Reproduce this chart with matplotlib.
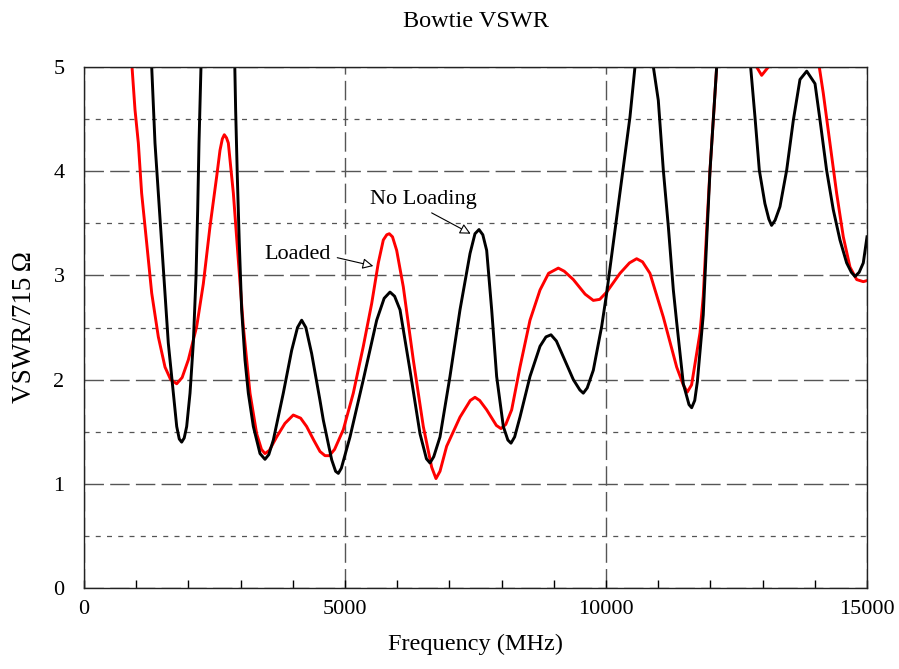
import numpy as np
import matplotlib
matplotlib.use('Agg')
import matplotlib.pyplot as plt
from matplotlib.ticker import MultipleLocator

plt.rcParams['font.family'] = ['Liberation Serif', 'DejaVu Serif']

# --- data (MHz, VSWR) ---
# values above 5 are only there to keep the clipped slopes right
freq_noload = [1250, 1297, 1360, 1424, 1488, 1552, 1615, 1711, 1776, 1825, 1871, 1920, 1967,
               2031, 2094, 2146, 2178, 2203, 2241, 2300, 2550, 2850, 2905, 2937, 2975, 3020,
               3084, 3148, 3244, 3372, 3467, 3540, 3627, 3818, 3978, 4090, 4170, 4250, 4361,
               4521, 4585, 4745, 4820, 4872, 4930, 5096, 5351, 5607, 5750, 5862, 5950, 6054,
               6245, 6437, 6560, 6628, 6700, 6820, 7011, 7203, 7395, 7490, 7567, 7640, 7714,
               7810, 7905, 8033, 8120, 8180, 8250, 8352, 8544, 8736, 8850, 8946, 9050, 9182,
               9374, 9500, 9565, 9640, 9757, 9917, 10013, 10140, 10331, 10459, 10555, 10730,
               10907, 11002, 11098, 11194, 11290, 11354, 11481, 11590, 11641, 11700, 11750,
               11863, 11930, 11992, 12069, 12120, 12450, 12771, 12854, 12937, 13044, 13120,
               13172, 13240, 13333, 13461, 13589, 13716, 13845, 14004, 14100, 14226, 14354,
               14482, 14610, 14700, 14770, 14850, 14929, 15000]
vswr_noload = [5.60, 5.00, 4.27, 3.79, 3.31, 2.83, 2.35, 1.87, 1.55, 1.43, 1.40, 1.44, 1.55,
               1.87, 2.35, 2.99, 3.63, 4.27, 5.00, 6.00, 7.00, 6.00, 4.59, 3.95, 3.31, 2.67,
               2.19, 1.87, 1.55, 1.29, 1.235, 1.28, 1.42, 1.87, 2.28, 2.50, 2.57, 2.50, 2.25,
               1.80, 1.61, 1.23, 1.12, 1.10, 1.15, 1.45, 2.00, 2.57, 2.78, 2.84, 2.80, 2.67,
               2.09, 1.48, 1.24, 1.20, 1.26, 1.45, 2.03, 2.67, 3.21, 3.40, 3.44, 3.39, 3.24,
               2.67, 2.03, 1.55, 1.42, 1.39, 1.45, 1.64, 2.03, 2.32, 2.41, 2.43, 2.37, 2.22,
               2.00, 1.90, 1.87, 1.92, 2.09, 2.51, 2.83, 3.31, 4.04, 4.52, 5.00, 5.60,
               5.00, 4.68, 4.01, 3.47, 2.86, 2.55, 1.96, 1.76, 1.73, 1.80, 1.98,
               2.62, 3.35, 4.00, 4.60, 5.00, 7.00, 5.00, 4.52, 4.01, 3.69, 3.54,
               3.48, 3.53, 3.66, 4.01, 4.49, 4.88, 4.96, 4.84, 4.49, 4.01, 3.63,
               3.34, 3.12, 3.03, 2.99, 3.03, 3.12, 3.37]

freq_loaded = [870, 920, 977, 1041, 1104, 1201, 1297, 1424, 1552, 1660, 1776, 1880, 1999, 2159,
               2286, 2414, 2542, 2605, 2650, 2688, 2730, 2765, 2861, 2956, 3052, 3180, 3308,
               3400, 3467, 3550, 3691, 3850, 4009, 4150, 4265, 4400, 4521, 4617, 4700, 4800,
               4968, 5159, 5351, 5511, 5638, 5734, 5800, 5849, 5910, 5990, 6117, 6308, 6500,
               6660, 6743, 6820, 6947, 7203, 7400, 7490, 7580, 7714, 7900, 7988, 8080, 8193,
               8352, 8544, 8736, 8900, 9086, 9200, 9374, 9600, 9757, 9880, 10013, 10268, 10450,
               10587, 10700, 10842, 11098, 11354, 11480, 11557, 11640, 11801, 11863, 11930,
               11992, 12069, 12120, 12500, 12886, 12982, 13110, 13600, 14086, 14162, 14290,
               14418, 14546, 14674, 14802, 14929, 15000]
vswr_loaded = [5.70, 5.00, 4.59, 4.27, 3.79, 3.31, 2.83, 2.41, 2.12, 2.00, 1.96, 2.02, 2.19, 2.51,
               2.92, 3.47, 3.95, 4.20, 4.31, 4.35, 4.32, 4.27, 3.79, 3.15, 2.51, 1.87, 1.48,
               1.33, 1.29, 1.32, 1.45, 1.58, 1.66, 1.63, 1.55, 1.42, 1.31, 1.27, 1.27, 1.33,
               1.52, 1.87, 2.32, 2.73, 3.12, 3.34, 3.39, 3.40, 3.37, 3.24, 2.89, 2.19, 1.55,
               1.16, 1.05, 1.12, 1.36, 1.64, 1.80, 1.83, 1.80, 1.71, 1.56, 1.53, 1.57, 1.71,
               2.12, 2.57, 2.86, 3.02, 3.07, 3.04, 2.96, 2.82, 2.76, 2.77, 2.84, 3.02, 3.12,
               3.16, 3.13, 3.02, 2.60, 2.12, 1.95, 1.88, 1.95, 2.45, 2.80, 3.45,
               4.01, 4.60, 5.00, 6.50, 5.00, 4.92, 5.00, 6.50, 5.00, 4.75, 4.27,
               3.79, 3.37, 3.08, 2.96, 2.94, 2.95]

fig = plt.figure(figsize=(8.99, 6.69), dpi=100)
ax = fig.add_axes([84/899, 1-588/669, 783/899, 521/669])

grid_col = '#555555'
ax.set_xlim(0, 15000)
ax.set_ylim(0, 5)
ax.xaxis.set_major_locator(MultipleLocator(5000))
ax.xaxis.set_minor_locator(MultipleLocator(1000))
ax.yaxis.set_major_locator(MultipleLocator(1))
ax.yaxis.set_minor_locator(MultipleLocator(0.5))

ax.grid(which='major', axis='both', color=grid_col, lw=1.0, ls=(0, (14, 4.5)))
ax.grid(which='minor', axis='y', color=grid_col, lw=0.9, ls=(0, (4, 5)))
ax.set_axisbelow(True)

ax.plot(freq_loaded, vswr_loaded, color='#ff0000', lw=2.1, zorder=3)
ax.plot(freq_noload, vswr_noload, color='black', lw=2.1, zorder=4)

ax.tick_params(axis='x', which='both', direction='in', length=6, width=1, labelsize=16, pad=9)
ax.tick_params(axis='y', which='both', length=0, labelsize=16, pad=14)
for sp in ax.spines.values():
    sp.set_color('#222222')
    sp.set_linewidth(1.0)
    sp.set_zorder(5)

ax.set_xlabel('Frequency (MHz)', fontsize=17.5, labelpad=10)
ax.set_ylabel('VSWR/715\u2009Ω', fontsize=19.5, labelpad=12)
ax.set_title('Bowtie VSWR', fontsize=17.5, pad=29)

arrow = dict(arrowstyle='-|>', fc='white', ec='black', lw=0.8, mutation_scale=16, shrinkA=0, shrinkB=0)
ax.text(6500, 3.73, 'No Loading', fontsize=16, ha='center', va='center')
ax.annotate('', xy=(7407, 3.40), xytext=(6660, 3.60), arrowprops=arrow)
ax.text(4086, 3.20, 'Loaded', fontsize=16, ha='center', va='center')
ax.annotate('', xy=(5542, 3.09), xytext=(4852, 3.17), arrowprops=arrow)

fig.savefig('out.png', dpi=100)
